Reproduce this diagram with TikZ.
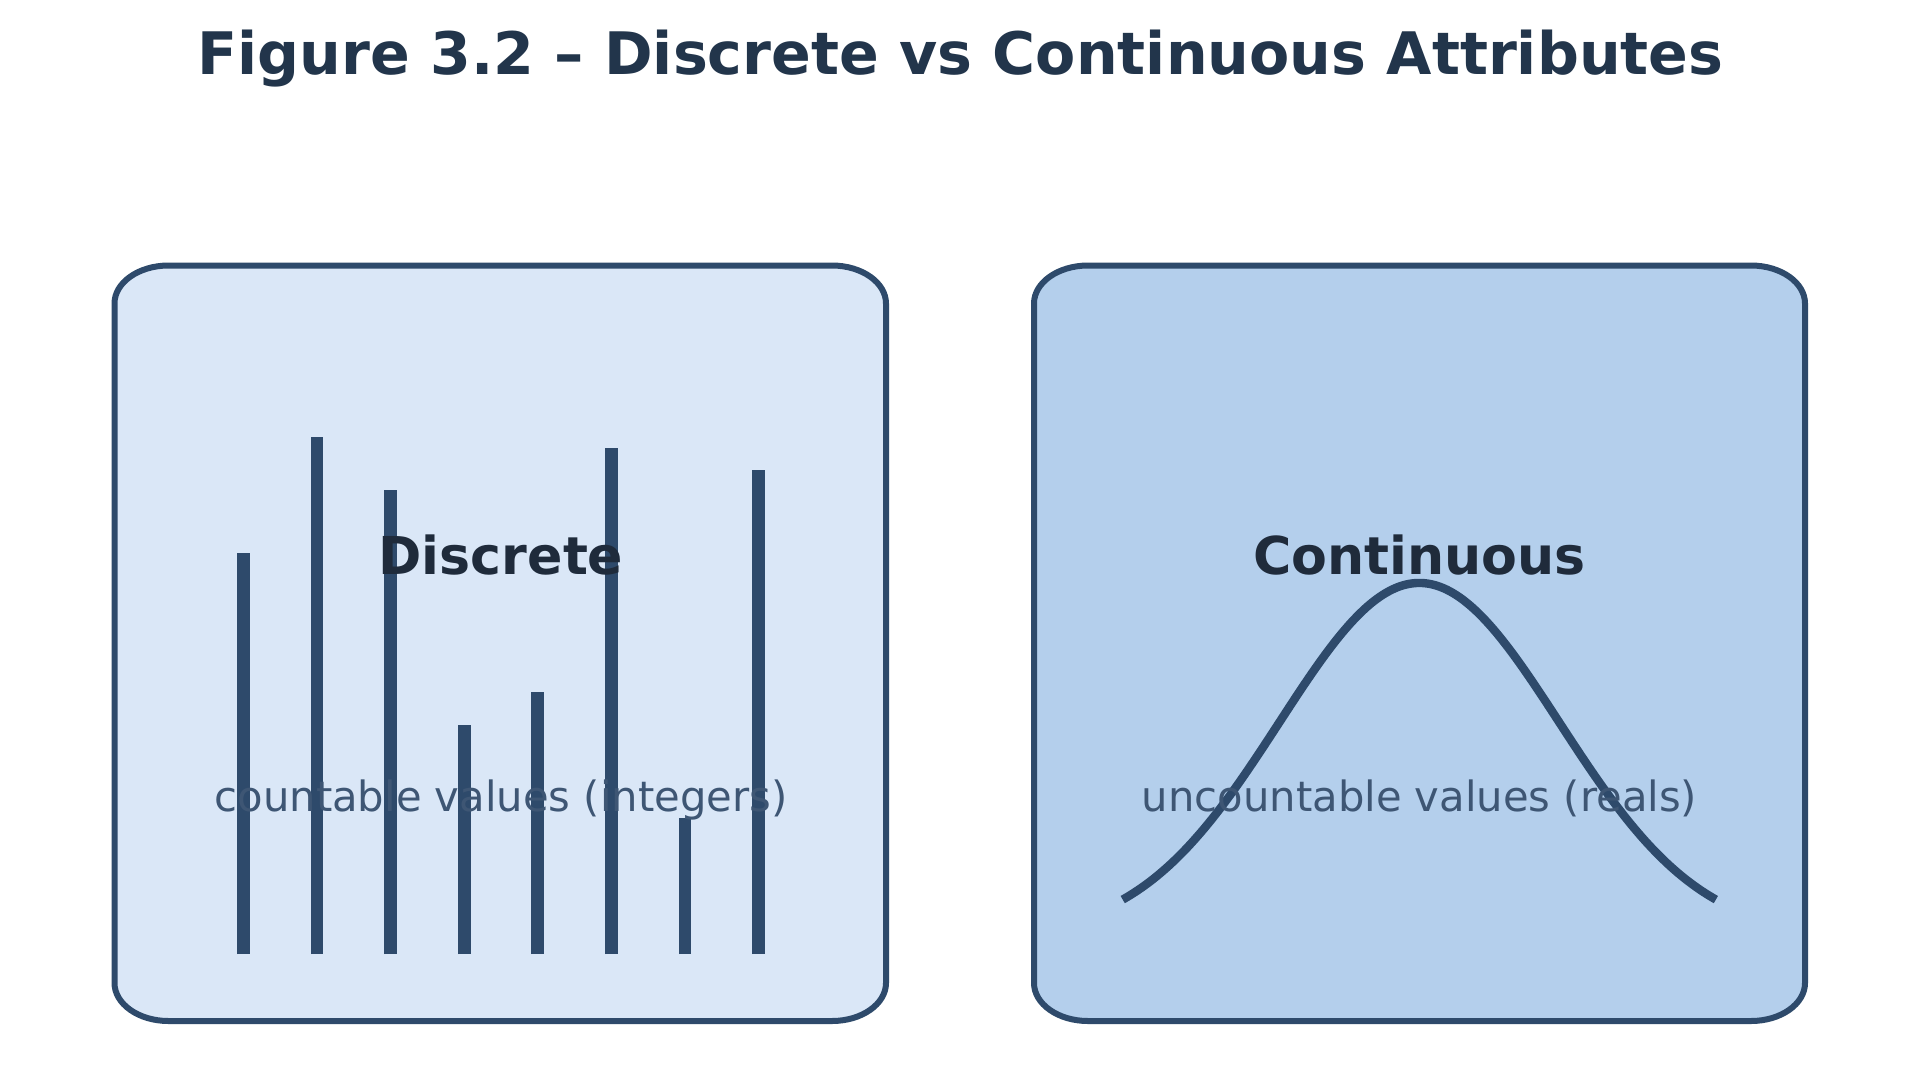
\documentclass[tikz,border=0pt]{standalone}
\usepackage{fontspec}
\setmainfont{DejaVu Sans}
\definecolor{edgecol}{RGB}{46,74,107}
\definecolor{leftfill}{RGB}{218,231,247}
\definecolor{rightfill}{RGB}{180,207,236}
\definecolor{titlecol}{RGB}{34,53,75}
\definecolor{labelcol}{RGB}{31,43,59}
\definecolor{subcol}{RGB}{62,86,116}
\newcommand\myroundbox[5]{%
  \draw[panel, fill=#5] ({#1+54},#2) -- ({#3-54},#2)
    arc[start angle=90,end angle=0,x radius=27pt,y radius=19pt]
    -- (#3,{#4-38})
    arc[start angle=0,end angle=-90,x radius=27pt,y radius=19pt]
    -- ({#1+54},#4)
    arc[start angle=-90,end angle=-180,x radius=27pt,y radius=19pt]
    -- (#1,{#2+38})
    arc[start angle=180,end angle=90,x radius=27pt,y radius=19pt]
    -- cycle;}
\begin{document}
\begin{tikzpicture}[x={(0.5pt,0)},y={(0,-0.5pt)},
  panel/.style={draw=edgecol, line width=3pt},
  bar/.style={draw=edgecol, line width=6.4pt, line cap=butt},
  curveline/.style={draw=edgecol, line width=4.2pt, line cap=butt},
  titletext/.style={font=\fontsize{29.3}{34}\selectfont\bfseries, text=titlecol, inner sep=0pt, anchor=base},
  labeltext/.style={font=\fontsize{26.1}{30}\selectfont\bfseries, text=labelcol, inner sep=0pt, anchor=base},
  subtext/.style={font=\fontsize{20.85}{25}\selectfont, text=subcol, inner sep=0pt, anchor=base}]
\useasboundingbox[fill=white] (0,0) rectangle (1919,1089);
% panels
\myroundbox{114.5}{265.5}{886}{1021}{leftfill}
\myroundbox{1034}{265.5}{1805}{1021}{rightfill}
% discrete bars
\foreach \i/\t in {0/553,1/437,2/489.5,3/724.5,4/692.4,5/447.5,6/818.3,7/470.4}{
  \draw[bar] ({243.5+73.57*\i},954) -- ({243.5+73.57*\i},\t);
}
% continuous curve
\draw[curveline] plot[domain=-2.12:2.12, samples=120, smooth] ({1419.3+139.9*\x},{583+354*(1-exp(-\x*\x/2))});
% texts
\node[titletext] (title) at (960.5,74) {Figure 3.2 – Discrete vs Continuous Attributes};
\node[labeltext] (dlabel) at (501,574) {Discrete};
\node[subtext] (dsub) at (501,811) {countable values (integers)};
\node[labeltext] (clabel) at (1419.5,574) {Continuous};
\node[subtext] (csub) at (1419.5,811) {uncountable values (reals)};
\end{tikzpicture}
\end{document}
